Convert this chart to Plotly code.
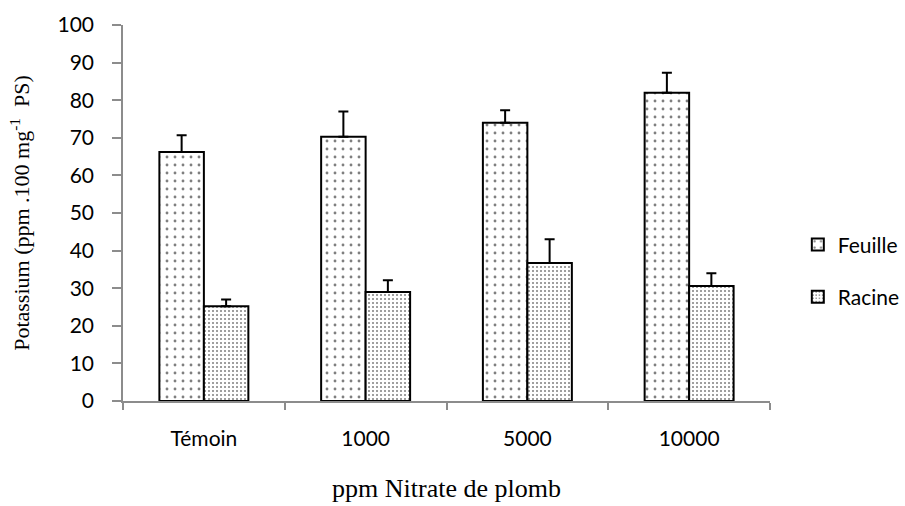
import plotly.graph_objects as go

categories = ["Témoin", "1000", "5000", "10000"]
feuille = [66.2, 70.3, 74.0, 82.0]
feuille_err = [4.5, 6.7, 3.3, 5.3]
racine = [25.2, 29.0, 36.7, 30.6]
racine_err = [1.8, 3.1, 6.3, 3.4]
y_ticks = list(range(0, 101, 10))

fig = go.Figure()
fig.add_trace(go.Bar(
    name="Feuille", x=categories, y=feuille, legendgroup="f",
    marker=dict(color="white", line=dict(color="black", width=2),
                pattern=dict(shape=".", fgcolor="black", bgcolor="white",
                             size=8, solidity=0.1)),
    error_y=dict(type="data", symmetric=False, array=feuille_err,
                 arrayminus=[0] * len(feuille_err), color="black",
                 thickness=2, width=5),
))
fig.add_trace(go.Bar(
    name="Racine", x=categories, y=racine, legendgroup="r",
    marker=dict(color="white", line=dict(color="black", width=2),
                pattern=dict(shape=".", fgcolor="black", bgcolor="white",
                             size=4, solidity=0.2)),
    error_y=dict(type="data", symmetric=False, array=racine_err,
                 arrayminus=[0] * len(racine_err), color="black",
                 thickness=2, width=5),
))

fig.update_layout(
    width=905, height=506,
    margin=dict(l=123, r=135, t=25, b=105, autoexpand=False),
    paper_bgcolor="white", plot_bgcolor="white",
    barmode="group", bargap=0.45, bargroupgap=0,
    font=dict(family="Lato, Open Sans, sans-serif", size=21, color="black"),
    showlegend=True,
    legend=dict(x=1.043, y=0.47, xanchor="left", yanchor="top",
                traceorder="grouped", tracegroupgap=22,
                font=dict(size=21), bgcolor="rgba(0,0,0,0)"),
    xaxis=dict(
        showline=True, linecolor="#8c8c8c", linewidth=1.5,
        ticks="outside", ticklen=7, tickcolor="#8c8c8c", tickwidth=1.5,
        tickson="boundaries", showgrid=False, ticklabelstandoff=18,
        tickfont=dict(size=21),
        title=dict(text="ppm Nitrate de plomb", standoff=30,
                   font=dict(family="Liberation Serif, Times New Roman, serif", size=26)),
    ),
    yaxis=dict(
        range=[0, 100], tickvals=y_ticks,
        showline=True, linecolor="#8c8c8c", linewidth=1.5,
        ticks="outside", ticklen=9, tickcolor="#8c8c8c", tickwidth=1.5,
        showgrid=False, zeroline=False, ticklabelstandoff=14,
        tickfont=dict(size=21),
        title=dict(text="Potassium (ppm .100 mg<sup>-1</sup>  PS)", standoff=22,
                   font=dict(family="Liberation Serif, Times New Roman, serif", size=22)),
    ),
)

fig.write_html("out.html")
